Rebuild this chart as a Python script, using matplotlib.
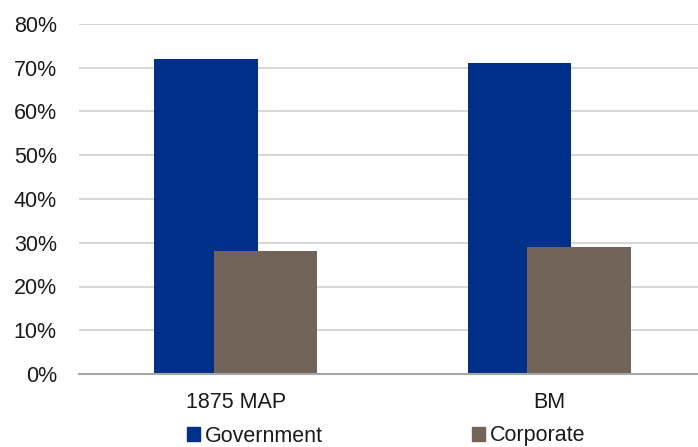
import matplotlib
matplotlib.use('Agg')
import matplotlib.pyplot as plt
from matplotlib import font_manager
from matplotlib.patches import Patch
import numpy as np

names = set(f.name for f in font_manager.fontManager.ttflist)
font = 'Liberation Sans Narrow' if 'Liberation Sans Narrow' in names else 'Liberation Sans'
plt.rcParams['font.family'] = [font, 'DejaVu Sans']

categories = ['1875 MAP', 'BM']
government = [72, 71]
corporate = [28, 29]
yticks = [0, 10, 20, 30, 40, 50, 60, 70, 80]

gov_color = '#00308a'
corp_color = '#726459'
fs = 15.5

fig = plt.figure(figsize=(6.98, 4.47), dpi=100)
ax = fig.add_axes([79/698, 73/447, 627/698, 350/447])

x = np.arange(len(categories))
w = 0.33
off = 0.095
ax.bar(x - off, government, w, color=gov_color, zorder=2)
ax.bar(x + off, corporate, w, color=corp_color, zorder=3)

ax.set_xlim(-0.5, 1.5)
ax.set_ylim(0, 80)
ax.set_yticks(yticks)
ax.set_yticklabels([f'{v}%' for v in yticks])
ax.set_xticks(x)
ax.set_xticklabels(categories)
ax.tick_params(axis='both', length=0, labelsize=fs, colors='#1a1a1a')
ax.tick_params(axis='y', pad=16)
ax.tick_params(axis='x', pad=13)

ax.yaxis.grid(True, color='#d4d4d4', linewidth=1.3, zorder=0)
ax.set_axisbelow(True)
for s in ['top', 'right', 'left']:
    ax.spines[s].set_visible(False)
ax.spines['bottom'].set_color('#a6a6a6')
ax.spines['bottom'].set_linewidth(1.5)
ax.spines['bottom'].set_zorder(4)

# legend entries placed separately, as in the original
for label, color, xpos in [('Government', gov_color, 187/698), ('Corporate', corp_color, 472/698)]:
    leg = fig.legend(handles=[Patch(color=color, label=label)], loc='center left',
                     bbox_to_anchor=(xpos, 11/447), frameon=False, fontsize=fs,
                     handlelength=0.6, handleheight=0.6, handletextpad=0.25,
                     borderpad=0, borderaxespad=0)
    for t in leg.get_texts():
        t.set_color('#1a1a1a')

fig.savefig('out.png', dpi=100)
